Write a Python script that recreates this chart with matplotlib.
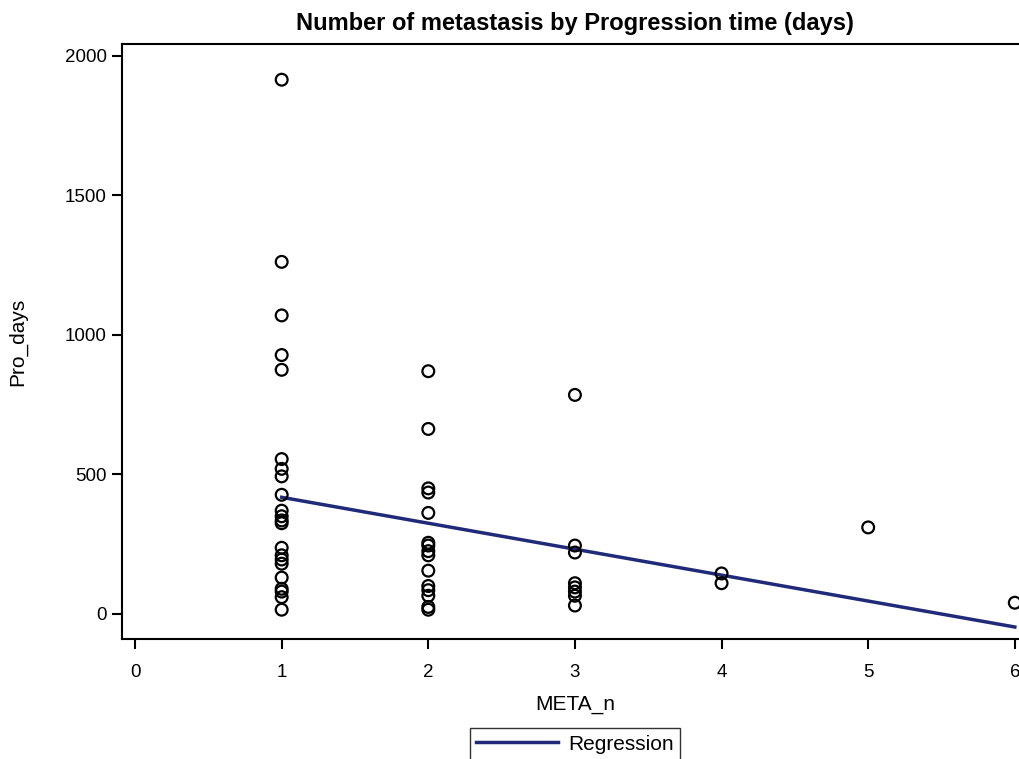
import numpy as np
import matplotlib.pyplot as plt

plt.rcParams['font.family'] = ['Liberation Sans', 'DejaVu Sans']

# values
meta_1 = [1915, 1262, 1070, 928, 875, 555, 520, 493, 427, 370, 350, 335, 325,
          237, 210, 195, 180, 130, 90, 80, 60, 15]
meta_2 = [870, 663, 450, 435, 362, 255, 245, 225, 210, 155, 100, 85, 65, 25, 15]
meta_3 = [785, 245, 220, 110, 95, 80, 65, 30]
meta_4 = [145, 110]
meta_5 = [310]
meta_6 = [40]

# regression line as drawn in the picture (ends at x=1 and x=6)
reg_x = [1, 6]
reg_y = [418, -47]

groups = [meta_1, meta_2, meta_3, meta_4, meta_5, meta_6]
x = np.concatenate([[i + 1] * len(g) for i, g in enumerate(groups)])
y = np.concatenate(groups)

fig = plt.figure(figsize=(10.2, 7.59), dpi=100)
ax = fig.add_axes([122 / 1020, 1 - 639 / 759, (1028 - 122) / 1020, (639 - 44) / 759])

ax.scatter(x, y, s=72, facecolors='none', edgecolors='black', linewidths=1.6, zorder=3)
ax.plot(reg_x, reg_y, color='#1f2a78', lw=2.5, label='Regression', zorder=2)

ax.set_xlim(-0.089, 6.09)
ax.set_ylim(-90, 2043)
ax.set_xticks(range(0, 7))
ax.set_yticks(range(0, 2001, 500))
ax.tick_params(direction='out', length=7, width=1.5, labelsize=13.5)
ax.tick_params(axis='x', pad=11)
ax.tick_params(axis='y', pad=4)
for s in ax.spines.values():
    s.set_linewidth(1.5)

ax.set_xlabel('META_n', fontsize=15, labelpad=10)
ax.set_ylabel('Pro_days', fontsize=15, labelpad=27)
ax.set_title('Number of metastasis by Progression time (days)', fontsize=17,
             fontweight='bold', pad=10)

fig.legend(loc='center', bbox_to_anchor=(575 / 1020, 1 - 744 / 759), fontsize=15,
           frameon=True, fancybox=False, edgecolor='black', handlelength=3.9,
           borderpad=0.3, handletextpad=0.5)

fig.savefig('out.png', dpi=100)
